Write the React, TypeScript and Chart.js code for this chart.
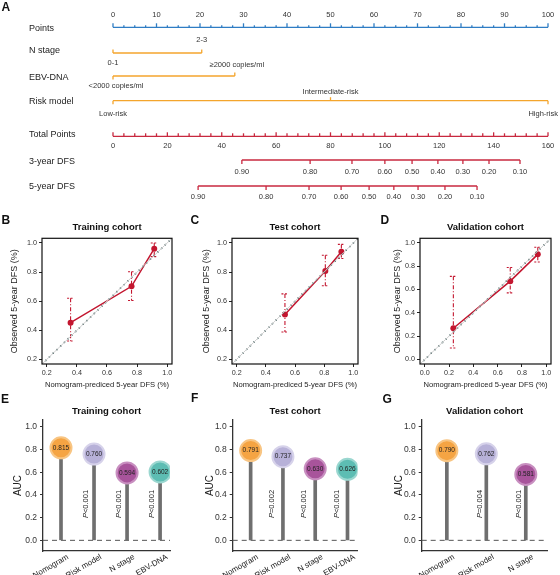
import { useEffect, useRef } from 'react';
import { Chart, registerables } from 'chart.js';

Chart.register(...registerables);

const FONT = '"Liberation Sans", Arial, Helvetica, sans-serif';
Chart.defaults.font.family = FONT;
Chart.defaults.color = '#333';

const BLUE = '#2f7dc4';
const ORANGE = '#f4a52c';
const RED = '#c8283f';
const CAL_RED = '#c3162f';

// ---------- Panel A: nomogram ----------
const rowNames = ['Points', 'N stage', 'EBV-DNA', 'Risk model', 'Total Points', '3-year DFS', '5-year DFS'];
const pointTicks = [0, 10, 20, 30, 40, 50, 60, 70, 80, 90, 100];
const nStageLevels = ['0-1', '2-3'];
const nStagePoints = [0, 20.4];
const ebvLevels = ['<2000 copies/ml', '≥2000 copies/ml'];
const ebvPoints = [0, 28];
const riskLevels = ['Low-risk', 'Intermediate-risk', 'High-risk'];
const riskPoints = [0, 50, 100];
const totalTicks = [0, 20, 40, 60, 80, 100, 120, 140, 160];
const dfsLevels = ['0.90', '0.80', '0.70', '0.60', '0.50', '0.40', '0.30', '0.20', '0.10'];
const dfs3yTotal = [47.4, 72.5, 87.9, 100.0, 110.0, 119.5, 128.7, 138.3, 149.7];
const dfs5yTotal = [31.3, 56.3, 72.1, 83.9, 94.2, 103.3, 112.2, 122.1, 133.9];

// ---------- Panels B-D: calibration ----------
const trainPred = [0.358, 0.763, 0.914];
const trainObs = [0.452, 0.702, 0.961];
const trainLow = [0.326, 0.604, 0.906];
const trainHigh = [0.62, 0.802, 1.0];

const testPred = [0.531, 0.808, 0.918];
const testObs = [0.508, 0.807, 0.939];
const testLow = [0.388, 0.706, 0.893];
const testHigh = [0.65, 0.916, 0.99];

const validPred = [0.235, 0.704, 0.931];
const validObs = [0.267, 0.672, 0.902];
const validLow = [0.098, 0.571, 0.837];
const validHigh = [0.713, 0.789, 0.963];

const calibTicksTrainTest = [0.2, 0.4, 0.6, 0.8, 1.0];
const calibTicksValid = [0, 0.2, 0.4, 0.6, 0.8, 1.0];

// ---------- Panels E-G: AUC lollipops ----------
const trainModels = ['Nomogram', 'Risk model', 'N stage', 'EBV-DNA'];
const trainAuc = [0.815, 0.76, 0.594, 0.602];
const trainP = ['', '<0.001', '<0.001', '<0.001'];

const testModels = ['Nomogram', 'Risk model', 'N stage', 'EBV-DNA'];
const testAuc = [0.791, 0.737, 0.63, 0.626];
const testP = ['', '=0.002', '<0.001', '<0.001'];

const validModels = ['Nomogram', 'Risk model', 'N stage'];
const validAuc = [0.79, 0.762, 0.581];
const validP = ['', '=0.004', '<0.001'];

const aucTicks = [0, 0.2, 0.4, 0.6, 0.8, 1.0];

const modelFill: Record<string, string> = {
  'Nomogram': '#f5a443',
  'Risk model': '#b7b1d8',
  'N stage': '#a8549b',
  'EBV-DNA': '#5dbdb3',
};
const modelRing: Record<string, string> = {
  'Nomogram': '#f8c583',
  'Risk model': '#d6d2ea',
  'N stage': '#c88fc0',
  'EBV-DNA': '#9bd7d0',
};

// vertical placement of nomogram rows
const ROW_LINE_Y = [27.3, 53, 76, 100.7, 136.3, 160, 186];
const ROW_LABEL_Y = [29, 50.7, 78, 102, 134.3, 162, 187];

const nomogramPlugin = {
  id: 'nomogram',
  afterDraw(chart: any) {
    const { ctx, width } = chart;
    const P = (v: number) => chart.scales.x.getPixelForValue(v);
    const T = (v: number) => chart.scales.total.getPixelForValue(v);
    ctx.save();
    ctx.lineWidth = 1.3;
    const line = (x1: number, x2: number, y: number, c: string) => {
      ctx.strokeStyle = c;
      ctx.beginPath();
      ctx.moveTo(x1, y);
      ctx.lineTo(x2, y);
      ctx.stroke();
    };
    const tick = (x: number, y: number, len: number, c: string) => {
      ctx.strokeStyle = c;
      ctx.beginPath();
      ctx.moveTo(x, y);
      ctx.lineTo(x, y + len);
      ctx.stroke();
    };
    const txt = (s: string, x: number, y: number) => {
      ctx.font = `7.5px ${FONT}`;
      const w = ctx.measureText(s).width;
      let cx = x;
      if (cx + w / 2 > width - 2) cx = width - 2 - w / 2;
      ctx.textAlign = 'center';
      ctx.fillText(s, cx, y);
    };

    ctx.textBaseline = 'middle';
    ctx.fillStyle = '#222';
    ctx.font = `9px ${FONT}`;
    ctx.textAlign = 'left';
    rowNames.forEach((n, i) => ctx.fillText(n, 29, ROW_LABEL_Y[i]));

    ctx.fillStyle = '#333';
    // Points
    const yP = ROW_LINE_Y[0];
    line(P(pointTicks[0]), P(pointTicks[pointTicks.length - 1]), yP, BLUE);
    const pMinor = 2.5;
    for (let v = pointTicks[0]; v <= pointTicks[pointTicks.length - 1] + 1e-9; v += pMinor) {
      tick(P(v), yP, Math.abs(v % 10) < 1e-6 ? -4 : -2, BLUE);
    }
    pointTicks.forEach((v) => txt(String(v), P(v), 15));

    // N stage
    const yN = ROW_LINE_Y[1];
    line(P(nStagePoints[0]), P(nStagePoints[1]), yN, ORANGE);
    tick(P(nStagePoints[0]), yN, -3.5, ORANGE);
    tick(P(nStagePoints[1]), yN, -3.5, ORANGE);
    txt(nStageLevels[0], P(nStagePoints[0]), 62.7);
    txt(nStageLevels[1], P(nStagePoints[1]), 40);

    // EBV-DNA
    const yE = ROW_LINE_Y[2];
    line(P(ebvPoints[0]), P(ebvPoints[1]), yE, ORANGE);
    tick(P(ebvPoints[0]), yE, 3.5, ORANGE);
    tick(P(ebvPoints[1]), yE, -3.5, ORANGE);
    txt(ebvLevels[0], P(ebvPoints[0]) + 3, 86);
    txt(ebvLevels[1], P(ebvPoints[1]) + 2, 65.3);

    // Risk model
    const yR = ROW_LINE_Y[3];
    line(P(riskPoints[0]), P(riskPoints[2]), yR, ORANGE);
    tick(P(riskPoints[0]), yR, 3.5, ORANGE);
    tick(P(riskPoints[1]), yR, -3.5, ORANGE);
    tick(P(riskPoints[2]), yR, 3.5, ORANGE);
    txt(riskLevels[0], P(riskPoints[0]), 114);
    txt(riskLevels[1], P(riskPoints[1]), 91.7);
    txt(riskLevels[2], P(riskPoints[2]), 114);

    // Total Points
    const yT = ROW_LINE_Y[4];
    line(T(totalTicks[0]), T(totalTicks[totalTicks.length - 1]), yT, RED);
    const tMinor = 4;
    for (let v = totalTicks[0]; v <= totalTicks[totalTicks.length - 1] + 1e-9; v += tMinor) {
      tick(T(v), yT, Math.abs(v % 20) < 1e-6 ? -4 : -3, RED);
    }
    totalTicks.forEach((v) => txt(String(v), T(v), 145.5));

    // 3-year / 5-year DFS
    const probAxis = (vals: number[], y: number, labelY: number) => {
      line(T(vals[0]), T(vals[vals.length - 1]), y, RED);
      vals.forEach((v, i) => {
        tick(T(v), y, 4, RED);
        txt(dfsLevels[i], T(v), labelY);
      });
    };
    probAxis(dfs3yTotal, ROW_LINE_Y[5], 172.3);
    probAxis(dfs5yTotal, ROW_LINE_Y[6], 197.3);
    ctx.restore();
  },
};

function nomogramConfig(): any {
  return {
    type: 'scatter',
    data: { datasets: [] },
    options: {
      animation: false,
      responsive: false,
      layout: { padding: { left: 113, right: 12, top: 0, bottom: 0 } },
      scales: {
        x: { type: 'linear', min: 0, max: 100, display: false },
        total: { type: 'linear', axis: 'x', min: 0, max: 160, display: false },
        y: { type: 'linear', min: 0, max: 1, display: false },
      },
      plugins: { legend: { display: false }, tooltip: { enabled: false } },
    },
    plugins: [nomogramPlugin],
  };
}

type CalibSpec = {
  title: string;
  pred: number[];
  obs: number[];
  low: number[];
  high: number[];
  ticks: number[];
  range: [number, number];
  yWidth: number;
  yTitlePad: number;
  padRight: number;
};

function calibConfig(s: CalibSpec): any {
  const errorBars = {
    id: 'errorBars',
    beforeDatasetsDraw(chart: any) {
      const { ctx, scales } = chart;
      ctx.save();
      ctx.strokeStyle = CAL_RED;
      ctx.lineWidth = 1.1;
      s.pred.forEach((p, i) => {
        const px = scales.x.getPixelForValue(p);
        const y1 = scales.y.getPixelForValue(s.high[i]);
        const y2 = scales.y.getPixelForValue(s.low[i]);
        ctx.setLineDash([4, 2, 1, 2]);
        ctx.beginPath();
        ctx.moveTo(px, y1);
        ctx.lineTo(px, y2);
        ctx.stroke();
        ctx.setLineDash([2, 1.5]);
        [y1, y2].forEach((yy) => {
          ctx.beginPath();
          ctx.moveTo(px - 3.5, yy);
          ctx.lineTo(px + 3.5, yy);
          ctx.stroke();
        });
      });
      ctx.restore();
    },
  };
  const frame = {
    id: 'frame',
    afterDraw(chart: any) {
      const { ctx, chartArea: a } = chart;
      ctx.save();
      ctx.strokeStyle = '#111';
      ctx.lineWidth = 1.2;
      ctx.strokeRect(a.left, a.top, a.right - a.left, a.bottom - a.top);
      ctx.restore();
    },
  };
  const diag = [
    { x: s.range[0], y: s.range[0] },
    { x: s.range[1], y: s.range[1] },
  ];
  const axisCommon = (ticks: number[]) => ({
    type: 'linear',
    min: s.range[0],
    max: s.range[1],
    afterBuildTicks: (sc: any) => {
      sc.ticks = ticks.map((v) => ({ value: v }));
    },
    ticks: {
      callback: (v: number) => Number(v).toFixed(1),
      font: { size: 7.2 },
      color: '#333',
      padding: 2,
    },
    grid: { drawOnChartArea: false, tickLength: 3, color: '#222' },
    border: { display: false },
  });
  return {
    type: 'scatter',
    data: {
      datasets: [
        { data: diag, showLine: true, borderColor: '#cfcfcf', borderWidth: 1, pointRadius: 0 },
        {
          data: diag,
          showLine: true,
          borderColor: '#2f4f4f',
          borderWidth: 1.7,
          borderDash: [0, 5.2],
          borderCapStyle: 'round',
          pointRadius: 0,
        },
        {
          data: s.pred.map((x, i) => ({ x, y: s.obs[i] })),
          showLine: true,
          borderColor: CAL_RED,
          borderWidth: 1.5,
          pointRadius: 3,
          pointBackgroundColor: CAL_RED,
          pointBorderWidth: 0,
        },
      ],
    },
    options: {
      animation: false,
      responsive: false,
      layout: { padding: { left: 0, right: s.padRight, top: 0, bottom: 0 } },
      scales: {
        x: {
          ...axisCommon(s.ticks),
          position: 'bottom',
          title: {
            display: true,
            text: 'Nomogram-prediced 5-year DFS (%)',
            font: { size: 7.6 },
            color: '#222',
            padding: { top: 0, bottom: 3.4 },
          },
          afterFit: (sc: any) => {
            sc.height = 29;
          },
        },
        y: {
          ...axisCommon(s.ticks),
          position: 'left',
          title: {
            display: true,
            text: 'Observed 5-year DFS (%)',
            font: { size: 9 },
            color: '#222',
            padding: { top: s.yTitlePad, bottom: 0 },
          },
          afterFit: (sc: any) => {
            sc.width = s.yWidth;
          },
        },
      },
      plugins: {
        legend: { display: false },
        tooltip: { enabled: false },
        title: {
          display: true,
          text: s.title,
          fullSize: false,
          font: { size: 9.5, weight: 'bold' },
          color: '#111',
          padding: { top: 8.3, bottom: 5.6 },
        },
      },
    },
    plugins: [errorBars, frame],
  };
}

type LolliSpec = {
  title: string;
  models: string[];
  auc: number[];
  p: string[];
  xRange: [number, number];
  yWidth: number;
  aucPad: number;
  padRight: number;
  pOffset: number;
};

function lolliConfig(s: LolliSpec): any {
  const deco = {
    id: 'lolliDeco',
    beforeDatasetsDraw(chart: any) {
      const { ctx, chartArea: a, scales } = chart;
      const y0 = scales.y.getPixelForValue(0);
      ctx.save();
      ctx.strokeStyle = '#555';
      ctx.lineWidth = 1;
      ctx.setLineDash([5, 4]);
      ctx.beginPath();
      ctx.moveTo(a.left, y0);
      ctx.lineTo(a.right, y0);
      ctx.stroke();
      ctx.restore();
    },
    afterDatasetsDraw(chart: any) {
      const { ctx, scales, chartArea } = chart;
      ctx.save();
      ctx.fillStyle = '#222';
      ctx.textBaseline = 'middle';
      s.auc.forEach((v, i) => {
        const px = scales.x.getPixelForValue(i);
        ctx.font = `6.5px ${FONT}`;
        ctx.textAlign = 'center';
        ctx.fillText(v.toFixed(3), px, scales.y.getPixelForValue(v));
        if (s.p[i]) {
          ctx.save();
          ctx.translate(px - s.pOffset, scales.y.getPixelForValue(0.32));
          ctx.rotate(-Math.PI / 2);
          ctx.font = `italic 7.5px ${FONT}`;
          const w1 = ctx.measureText('P').width;
          ctx.font = `7.5px ${FONT}`;
          const w2 = ctx.measureText(s.p[i]).width;
          const start = -(w1 + w2) / 2;
          ctx.textAlign = 'left';
          ctx.font = `italic 7.5px ${FONT}`;
          ctx.fillText('P', start, 0);
          ctx.font = `7.5px ${FONT}`;
          ctx.fillText(s.p[i], start + w1, 0);
          ctx.restore();
        }
      });
      // slanted category names under the axis
      s.models.forEach((m, i) => {
        const px = scales.x.getPixelForValue(i);
        ctx.save();
        ctx.translate(px + 5, chartArea.bottom + 2);
        ctx.rotate((-30 * Math.PI) / 180);
        ctx.font = `8px ${FONT}`;
        ctx.textAlign = 'right';
        ctx.textBaseline = 'top';
        ctx.fillStyle = '#222';
        ctx.fillText(m, 0, 0);
        ctx.restore();
      });
      ctx.restore();
    },
  };
  const pts = s.auc.map((v, i) => ({ x: i, y: v }));
  return {
    type: 'bar',
    data: {
      datasets: [
        {
          type: 'bar',
          data: pts,
          backgroundColor: '#6f6f6f',
          barThickness: 3,
          order: 2,
        },
        {
          type: 'scatter',
          data: pts,
          pointRadius: 10.5,
          pointBorderWidth: 2,
          pointBackgroundColor: s.models.map((m) => modelFill[m]),
          pointBorderColor: s.models.map((m) => modelRing[m]),
          order: 1,
        },
      ],
    },
    options: {
      animation: false,
      responsive: false,
      layout: { padding: { left: 0, right: s.padRight, top: 0, bottom: 0 } },
      scales: {
        x: {
          type: 'linear',
          min: s.xRange[0],
          max: s.xRange[1],
          offset: false,
          ticks: { display: false },
          grid: { display: false, drawTicks: false },
          border: { color: '#333', width: 1.3 },
          afterFit: (sc: any) => {
            sc.height = 24;
          },
        },
        y: {
          type: 'linear',
          min: -0.094,
          max: 1.06,
          afterBuildTicks: (sc: any) => {
            sc.ticks = aucTicks.map((v) => ({ value: v }));
          },
          ticks: {
            callback: (v: number) => Number(v).toFixed(1),
            font: { size: 8.5 },
            color: '#333',
            padding: 3,
          },
          grid: { drawOnChartArea: false, tickLength: 3, color: '#333' },
          border: { color: '#333', width: 1.3 },
          title: {
            display: true,
            text: 'AUC',
            font: { size: 10 },
            color: '#222',
            padding: { top: s.aucPad, bottom: 0 },
          },
          afterFit: (sc: any) => {
            sc.width = s.yWidth;
          },
        },
      },
      plugins: {
        legend: { display: false },
        tooltip: { enabled: false },
        title: {
          display: true,
          text: s.title,
          fullSize: false,
          font: { size: 9.5, weight: 'bold' },
          color: '#111',
          padding: { top: 10.3, bottom: 3.3 },
        },
      },
    },
    plugins: [deco],
  };
}

const panelLetters = [
  { t: 'A', left: 1.5, top: 1.1 },
  { t: 'B', left: 1.5, top: 214.1 },
  { t: 'C', left: 190.5, top: 214.1 },
  { t: 'D', left: 380.5, top: 214.1 },
  { t: 'E', left: 1, top: 392.7 },
  { t: 'F', left: 191, top: 392.4 },
  { t: 'G', left: 382.5, top: 393.4 },
];

export default function App() {
  const nomoRef = useRef<HTMLCanvasElement>(null);
  const bRef = useRef<HTMLCanvasElement>(null);
  const cRef = useRef<HTMLCanvasElement>(null);
  const dRef = useRef<HTMLCanvasElement>(null);
  const eRef = useRef<HTMLCanvasElement>(null);
  const fRef = useRef<HTMLCanvasElement>(null);
  const gRef = useRef<HTMLCanvasElement>(null);

  useEffect(() => {
    const charts: Chart[] = [];
    charts.push(new Chart(nomoRef.current!, nomogramConfig()));
    charts.push(
      new Chart(
        bRef.current!,
        calibConfig({
          title: 'Training cohort',
          pred: trainPred,
          obs: trainObs,
          low: trainLow,
          high: trainHigh,
          ticks: calibTicksTrainTest,
          range: [0.168, 1.032],
          yWidth: 42,
          yTitlePad: 9.6,
          padRight: 13,
        })
      )
    );
    charts.push(
      new Chart(
        cRef.current!,
        calibConfig({
          title: 'Test cohort',
          pred: testPred,
          obs: testObs,
          low: testLow,
          high: testHigh,
          ticks: calibTicksTrainTest,
          range: [0.168, 1.032],
          yWidth: 47,
          yTitlePad: 16.6,
          padRight: 12,
        })
      )
    );
    charts.push(
      new Chart(
        dRef.current!,
        calibConfig({
          title: 'Validation cohort',
          pred: validPred,
          obs: validObs,
          low: validLow,
          high: validHigh,
          ticks: calibTicksValid,
          range: [-0.04, 1.04],
          yWidth: 50,
          yTitlePad: 22.6,
          padRight: 9,
        })
      )
    );
    charts.push(
      new Chart(
        eRef.current!,
        lolliConfig({
          title: 'Training cohort',
          models: trainModels,
          auc: trainAuc,
          p: trainP,
          xRange: [-0.545, 3.3],
          yWidth: 43,
          aucPad: 12,
          padRight: 15,
          pOffset: 8.5,
        })
      )
    );
    charts.push(
      new Chart(
        fRef.current!,
        lolliConfig({
          title: 'Test cohort',
          models: testModels,
          auc: testAuc,
          p: testP,
          xRange: [-0.556, 3.31],
          yWidth: 47.7,
          aucPad: 19,
          padRight: 10,
          pOffset: 11,
        })
      )
    );
    charts.push(
      new Chart(
        gRef.current!,
        lolliConfig({
          title: 'Validation cohort',
          models: validModels,
          auc: validAuc,
          p: validP,
          xRange: [-0.637, 2.55],
          yWidth: 51.7,
          aucPad: 23.3,
          padRight: 8.3,
          pOffset: 6.5,
        })
      )
    );
    return () => charts.forEach((c) => c.destroy());
  }, []);

  const abs = (left: number, top: number) => ({ position: 'absolute' as const, left, top });

  return (
    <div
      style={{
        position: 'absolute',
        left: 0,
        top: 0,
        width: 560,
        height: 575,
        background: '#fff',
        overflow: 'hidden',
        fontFamily: FONT,
      }}
    >
      <canvas ref={nomoRef} width={560} height={205} style={abs(0, 0)} />
      <canvas ref={bRef} width={185} height={180} style={abs(0, 213)} />
      <canvas ref={cRef} width={185} height={180} style={abs(185, 213)} />
      <canvas ref={dRef} width={190} height={180} style={abs(370, 213)} />
      <canvas ref={eRef} width={185} height={180} style={abs(0, 395)} />
      <canvas ref={fRef} width={185} height={180} style={abs(185, 395)} />
      <canvas ref={gRef} width={190} height={180} style={abs(370, 395)} />
      {panelLetters.map((l) => (
        <div
          key={l.t}
          style={{
            ...abs(l.left, l.top),
            fontSize: 12,
            lineHeight: '12px',
            fontWeight: 'bold',
            color: '#111',
          }}
        >
          {l.t}
        </div>
      ))}
    </div>
  );
}
